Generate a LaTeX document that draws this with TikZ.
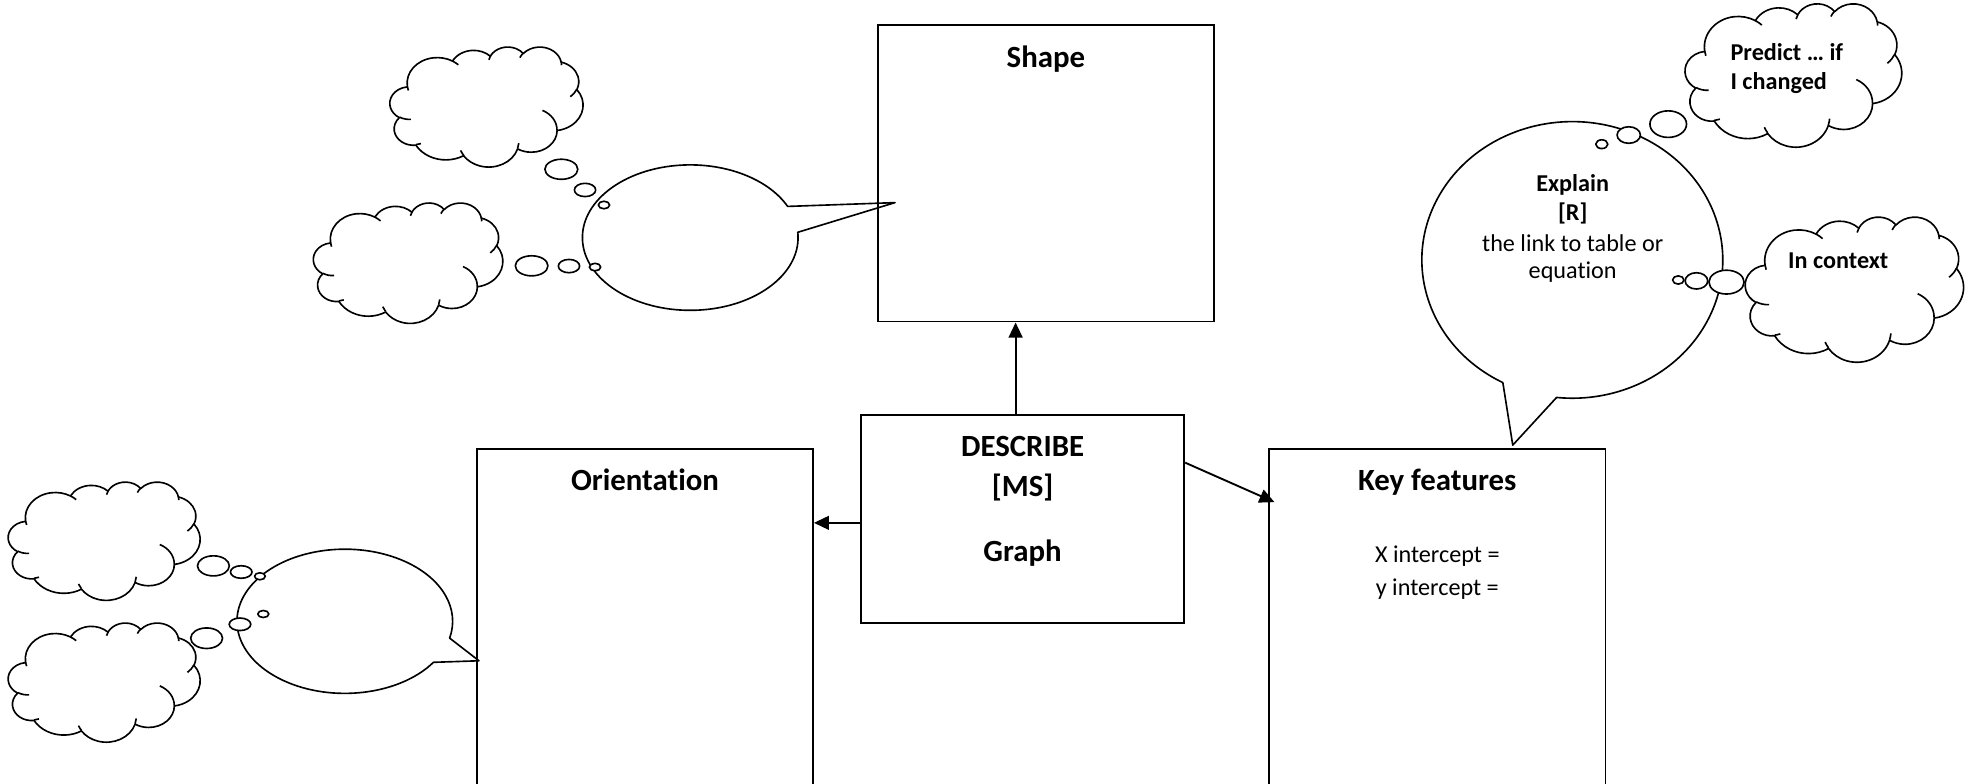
\documentclass[tikz,border=0pt]{standalone}
\usepackage{fontspec}
\setmainfont{Carlito}[Ligatures={NoCommon}]
\usetikzlibrary{arrows.meta,calc}
% DrawingML arcTo (visual angles) -> TikZ arc (parametric angles)
\newcommand\ooprep[5]{%
  \pgfmathsetmacro\ootmpa{#4}%
  \pgfmathsetmacro\ootmpb{#4+#5}%
  \pgfmathsetmacro\ootmpc{atan2(#2*sin(\ootmpa),#3*cos(\ootmpa))}%
  \pgfmathsetmacro\ootmpc{(\ootmpc)+360*round(((\ootmpa)-(\ootmpc))/360)}%
  \pgfmathsetmacro\ootmpd{atan2(#2*sin(\ootmpb),#3*cos(\ootmpb))}%
  \pgfmathsetmacro\ootmpd{(\ootmpd)+360*round(((\ootmpb)-(\ootmpd))/360)}%
  \expandafter\xdef\csname oo#1\endcsname{arc[start angle=\ootmpc,end angle=\ootmpd,x radius=#2,y radius=#3]}%
}
\ooprep{A}{67.53}{91.90}{-190.4875}{123.7805}
\ooprep{B}{53.33}{72.67}{-144.1024}{89.9452}
\ooprep{C}{43.65}{59.45}{-145.8079}{99.7230}
\ooprep{D}{48.57}{65.95}{-130.9861}{117.2417}
\ooprep{E}{53.33}{72.73}{-78.7089}{109.0269}
\ooprep{F}{67.75}{92.20}{-46.2673}{130.2690}
\ooprep{G}{57.85}{78.67}{0.6250}{114.0333}
\ooprep{H}{67.52}{92.15}{22.4516}{115.1726}
\ooprep{I}{77.20}{105.43}{66.2426}{75.7110}
\ooprep{J}{43.60}{59.18}{-274.9421}{146.7356}
\ooprep{K}{43.45}{59.45}{-246.8285}{152.5189}
\ooprep{Sa}{43.45}{59.45}{86.7420}{26.4295}
\ooprep{Sb}{43.60}{59.18}{73.6105}{11.4475}
\ooprep{Sc}{67.52}{92.15}{137.6242}{14.0811}
\ooprep{Sd}{67.52}{92.15}{6.4533}{15.9984}
\ooprep{Se}{57.85}{78.67}{-70.2924}{70.9174}
\ooprep{Sf}{53.33}{72.73}{30.3180}{27.7515}
\ooprep{Sg}{48.57}{65.95}{-13.7443}{14.8589}
\ooprep{Sh}{48.57}{65.95}{-149.1815}{18.1954}
\ooprep{Si}{43.65}{59.45}{-163.4943}{17.6868}
\ooprep{Sj}{67.53}{91.90}{-66.7070}{12.3194}
\ooprep{Sk}{67.53}{91.90}{157.6544}{11.8582}
\newcommand\wcloud[5]{%
  \pgfmathsetmacro\cwx{#4/432}%
  \pgfmathsetmacro\cwy{#5/432}%
  \begin{scope}[shift={(#2,#3)},x=\cwx pt,y=-\cwy pt]
    \draw[cloudline,fill=white] (39.00,143.70) \ooA\ooB\ooC\ooD\ooE\ooF\ooG\ooH\ooI\ooJ\ooK -- cycle;
    \draw[cloudline] (46.93,261.77) \ooSa (69.28,348.99) \ooSb (164.78,390.90) \ooSc
      (288.27,347.51) \ooSd (341.29,229.54) \ooSe (417.98,153.54) \ooSf
      (383.24,54.26) \ooSg (290.78,39.52) \ooSh (221.41,47.20) \ooSi
      (140.00,51.92) \ooSj (41.27,157.89) \ooSk;
    \coordinate (#1) at (216,216);
  \end{scope}}
\tikzset{
  box/.style={draw,line width=1.5pt,inner sep=0pt},
  head/.style={font=\fontsize{24.6}{29}\selectfont\bfseries,inner sep=0pt},
  body/.style={font=\fontsize{19.3}{23}\selectfont,inner sep=0pt},
  bodyb/.style={font=\fontsize{19.3}{23}\selectfont\bfseries,inner sep=0pt},
  arr/.style={-{Triangle[length=12pt,width=11pt]},line width=1.5pt},
  bub/.style={line width=1.3pt,line join=round},
  dot/.style={bub,fill=white},
  cloudline/.style={line width=1.3pt,line join=round},
}
\begin{document}
\begin{tikzpicture}[x=1pt,y=-1pt]
\useasboundingbox (0,0) rectangle (1568,624.5);
\clip (0,0) rectangle (1568,624.5);

% boxes
\node[box,minimum width=268pt,minimum height=236.5pt] (shape) at (834.2,138.2) {};
\node[box,minimum width=257.8pt,minimum height=166pt] (desc) at (815.6,414) {};
\node[box,minimum width=268pt,minimum height=342pt] (orient) at (514.4,528.9) {};
\node[box,minimum width=268.4pt,minimum height=342pt] (key) at (1146.3,529) {};

\node[head,anchor=base] (shapeT) at (834.2,54) {Shape};
\node[head,anchor=base] (orientT) at (514.4,391) {Orientation};
\node[head,anchor=base] (keyT) at (1146.3,391) {Key features};
\node[body,anchor=base] (xint) at (1146.3,448.8) {X intercept =};
\node[body,anchor=base] (yint) at (1146.3,474.6) {y intercept =};
\node[head,anchor=base] (descA) at (815.6,363.7) {DESCRIBE};
\node[head,anchor=base] (descB) at (815.6,396) {[MS]};
\node[head,anchor=base] (descC) at (815.6,448) {Graph};

% connectors
\coordinate (upx) at (810,0);
\coordinate (lefty) at (0,417);
\coordinate (rsy) at (0,369);
\coordinate (keyin) at (1016.5,400.5);
\draw[arr] (desc.north -| upx) -- (shape.south -| upx);
\draw[arr] (desc.west |- lefty) -- (orient.east |- lefty);
\draw[arr] (desc.east |- rsy) -- (keyin);

% speech bubbles
\coordinate (sbc) at (550.5,189.5);
\coordinate (sbt) at (713.8,161.6);
\draw[bub] (sbc) ++(-4.2:86 and 58) arc[start angle=-4.2,end angle=334.6,x radius=86,y radius=58] -- (sbt) -- cycle;
\coordinate (obc) at (275,495.5);
\coordinate (obt) at (382,527);
\draw[bub] (obc) ++(34.7:86 and 57.5) arc[start angle=34.7,end angle=373.5,x radius=86,y radius=57.5] -- (obt) -- cycle;
\coordinate (ebc) at (1254,207.3);
\coordinate (ebt) at (1206.5,355);
\draw[bub] (ebc) ++(117.5:120 and 110.3) arc[start angle=117.5,end angle=456,x radius=120,y radius=110.3] -- (ebt) -- cycle;

% thought dots
\draw[dot] (447.7,135) ellipse[x radius=13.1,y radius=8];
\draw[dot] (466.6,151.5) ellipse[x radius=8.5,y radius=5.3];
\draw[dot] (481.7,163.5) ellipse[x radius=4.5,y radius=3];
\draw[dot] (424,212) ellipse[x radius=13,y radius=8];
\draw[dot] (453.8,212.2) ellipse[x radius=8.5,y radius=5.3];
\draw[dot] (474.6,213) ellipse[x radius=4.5,y radius=3];
\draw[dot] (170.2,451.3) ellipse[x radius=12.7,y radius=8];
\draw[dot] (192.4,456.2) ellipse[x radius=8.6,y radius=5];
\draw[dot] (207.3,459.6) ellipse[x radius=4.3,y radius=2.8];
\draw[dot] (164.8,509) ellipse[x radius=12.7,y radius=8.2];
\draw[dot] (191.4,497.9) ellipse[x radius=8.6,y radius=5];
\draw[dot] (210,489.7) ellipse[x radius=4.4,y radius=2.8];
\draw[dot] (1330.5,99) ellipse[x radius=14.6,y radius=10.6];
\draw[dot] (1299,107.7) ellipse[x radius=9.3,y radius=6.6];
\draw[dot] (1277.5,115) ellipse[x radius=4.8,y radius=3.5];
\draw[dot] (1377,225) ellipse[x radius=14,y radius=9.5];
\draw[dot] (1353,224) ellipse[x radius=9,y radius=6.5];
\draw[dot] (1338.5,223.3) ellipse[x radius=4.5,y radius=3.3];

% clouds
\wcloud{c1}{311}{37.2}{154}{95.7}
\wcloud{c2}{250}{161.6}{151}{96}
\wcloud{c3}{6.6}{384.2}{153}{94.3}
\wcloud{c4}{6.6}{496.6}{153}{95}
\wcloud{c5}{1344}{2.7}{172.7}{114.3}
\wcloud{c6}{1392}{172.8}{174}{115.7}

% bubble / cloud texts
\node[bodyb,anchor=base] (expA) at (1254.3,152.9) {Explain};
\node[bodyb,anchor=base] (expB) at (1254.3,175.5) {[R]};
\node[body,anchor=base] (expC) at (1254.3,200.7) {the link to table or};
\node[body,anchor=base] (expD) at (1254.3,222) {equation};
\node[bodyb,anchor=base west] (predA) at (1380,47.9) {Predict … if};
\node[bodyb,anchor=base west] (predB) at (1380,71.2) {I changed};
\node[bodyb,anchor=base west] (ctx) at (1426,214) {In context};
\end{tikzpicture}
\end{document}
